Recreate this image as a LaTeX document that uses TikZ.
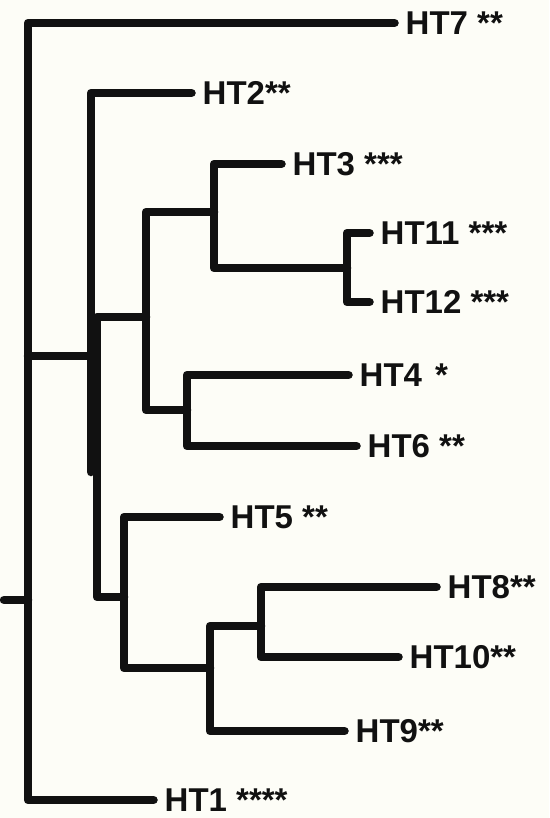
\documentclass[tikz,border=0pt]{standalone}
\usepackage{fontspec}
\setmainfont{Liberation Sans}
\definecolor{ink}{RGB}{17,17,17}
\definecolor{paper}{RGB}{253,253,247}
\begin{document}
\begin{tikzpicture}[x=1pt,y=-1pt,
  branch/.style={line width=8.5pt, line cap=round, line join=round, draw=ink},
  leaf/.style={anchor=west, inner xsep=11pt, inner ysep=0pt,
    text height=23.6pt, text depth=0pt, text=ink,
    font=\bfseries\fontsize{33}{33}\selectfont}]
  % paper
  \fill[paper] (0,0) rectangle (549,818);
  \useasboundingbox (0,0) rectangle (549,818);

  % taxa
  \node[leaf] (ht7)  at (394.5,23)  {HT7 **};
  \node[leaf] (ht2)  at (191.5,93)  {HT2**};
  \node[leaf] (ht3)  at (281.5,164) {HT3 ***};
  \node[leaf] (ht11) at (369.5,233) {HT11 ***};
  \node[leaf] (ht12) at (369.5,302) {HT12 ***};
  \node[leaf] (ht4)  at (348.5,375) {HT4 \kern4pt*};
  \node[leaf] (ht6)  at (356.5,446) {HT6 **};
  \node[leaf] (ht5)  at (219.5,517) {HT5 **};
  \node[leaf] (ht8)  at (436.5,587) {HT8**};
  \node[leaf] (ht10) at (398.5,657) {HT10**};
  \node[leaf] (ht9)  at (344.5,731) {HT9**};
  \node[leaf] (ht1)  at (153.5,800) {HT1 ****};

  % internal junctions
  \coordinate (stub) at (4,600);
  \coordinate (r)    at (28,600);
  \coordinate (rA)   at (28,356);
  \coordinate (a)    at (91,356);
  \coordinate (aend) at (91,472);
  \coordinate (b)    at (97,472);
  \coordinate (f)    at (146,317);
  \coordinate (g)    at (214,212);
  \coordinate (h)    at (347,268);
  \coordinate (i)    at (187,410);
  \coordinate (c)    at (124,597);
  \coordinate (d)    at (210,668);
  \coordinate (e)    at (261,626);

  % branches
  \draw[branch] (stub) -- (r);
  \draw[branch] (ht7.west) -| (r) |- (ht1.west);
  \draw[branch] (rA) -- (a);
  \draw[branch] (ht2.west) -| (a) -- (aend);
  \draw[branch] (f) -| (b) |- (c);
  \draw[branch] (g) -| (f) |- (i);
  \draw[branch] (ht3.west) -| (g) |- (h);
  \draw[branch] (ht11.west) -| (h) |- (ht12.west);
  \draw[branch] (ht4.west) -| (i) |- (ht6.west);
  \draw[branch] (ht5.west) -| (c) |- (d);
  \draw[branch] (e) -| (d) |- (ht9.west);
  \draw[branch] (ht8.west) -| (e) |- (ht10.west);
\end{tikzpicture}
\end{document}
